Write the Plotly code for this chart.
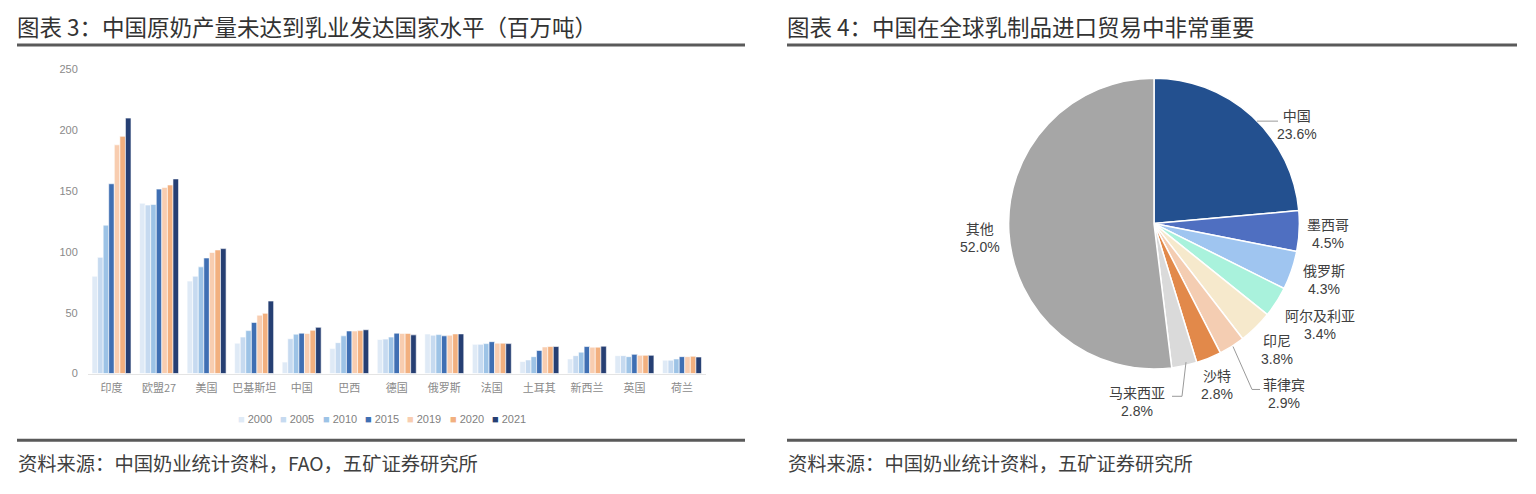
import plotly.graph_objects as go

# ---------------- data ----------------
countries = ["印度", "欧盟27", "美国", "巴基斯坦", "中国", "巴西", "德国", "俄罗斯", "法国", "土耳其", "新西兰", "英国", "荷兰"]
years = ["2000", "2005", "2010", "2015", "2019", "2020", "2021"]
v2000 = [80, 140, 76, 25, 9.4, 20.5, 28, 32.5, 24, 9.9, 12, 14.7, 11]
v2005 = [95.5, 138.5, 80, 30, 28.6, 25.4, 28.3, 31.5, 24, 11.2, 14.7, 14.7, 11]
v2010 = [122, 139, 87.7, 35.3, 32.4, 31, 30, 32, 24.6, 13.9, 17.6, 13.9, 12]
v2015 = [156, 151.6, 95, 42, 33.2, 35, 33.2, 31, 26.2, 19, 22.2, 15.8, 13.9]
v2019 = [188, 153, 99.5, 48, 32.9, 35, 33, 31.5, 25, 21.9, 21.7, 15, 13.9]
v2020 = [195, 155, 101.6, 49.5, 35.6, 35.3, 33, 32.6, 25, 22.2, 21.7, 15, 14.2]
v2021 = [210, 160, 102.7, 59.6, 38, 36, 31.8, 32.6, 24.6, 22.2, 22.5, 15, 13.6]
bar_values = [v2000, v2005, v2010, v2015, v2019, v2020, v2021]
y_ticks = [0, 50, 100, 150, 200, 250]

pie_labels = ["中国", "墨西哥", "俄罗斯", "阿尔及利亚", "印尼", "菲律宾", "沙特", "马来西亚", "其他"]
pie_values = [23.6, 4.5, 4.3, 3.4, 3.8, 2.9, 2.8, 2.8, 52.0]

# ---------------- styles ----------------
W, H = 1536, 494
bar_colors = ["#dfeaf6", "#c6daf0", "#9dc3e6", "#3f6fb3", "#f8cdb0", "#f2b07f", "#263f73"]
pie_colors = ["#23508f", "#4f6fc1", "#9fc5f0", "#a9f2dc", "#f6e9cc", "#f4cdb2", "#e2894a", "#dadada", "#a6a6a6"]
LATIN_CJK = "Liberation Sans, Arial, Noto Sans CJK SC, sans-serif"
CJK = "Noto Sans CJK SC, Liberation Sans, sans-serif"


def px(x):
    return x / W


def py(y):
    return 1 - y / H


fig = go.Figure()

for name, vals, col in zip(years, bar_values, bar_colors):
    fig.add_trace(go.Bar(
        x=countries, y=vals, name=name,
        marker=dict(color=col, line=dict(color="white", width=0.6)),
        showlegend=False, hoverinfo="x+y+name",
    ))

# pie geometry (pixels)
pcx, pcy, pr = 1154, 223, 149
fig.add_trace(go.Pie(
    labels=pie_labels, values=pie_values,
    sort=False, direction="clockwise", rotation=0,
    marker=dict(colors=pie_colors, line=dict(color="white", width=1.5)),
    textinfo="none", showlegend=False,
    domain=dict(x=[px(pcx - pr), px(pcx + pr)], y=[py(pcy + pr), py(pcy - pr)]),
))

fig.update_layout(
    width=W, height=H,
    margin=dict(l=0, r=0, t=0, b=0),
    paper_bgcolor="white", plot_bgcolor="white",
    barmode="group", bargap=0.18, bargroupgap=0.0,
    font=dict(family=LATIN_CJK, color="#595959"),
    xaxis=dict(
        domain=[px(87.75), px(705.75)],
        showgrid=False, zeroline=False, showline=True, linecolor="#e4e4e4", linewidth=1,
        ticks="", tickfont=dict(size=11, color="#8a8a8a", family=CJK),
        ticklabelstandoff=4,
    ),
    yaxis=dict(
        domain=[py(376.7), py(65)], range=[0, 250],
        tickvals=y_ticks, showgrid=False, zeroline=False, showline=False,
        ticks="", tickfont=dict(size=11, color="#8a8a8a"), ticklabelstandoff=9,
    ),
)

ann = []
# titles
ann.append(dict(text="图表 3：中国原奶产量未达到乳业发达国家水平（百万吨）", x=px(15), y=py(20),
                xref="paper", yref="paper", xanchor="left", yanchor="middle", showarrow=False,
                font=dict(size=22.5, color="#333333", family=CJK)))
ann.append(dict(text="图表 4：中国在全球乳制品进口贸易中非常重要", x=px(785), y=py(20),
                xref="paper", yref="paper", xanchor="left", yanchor="middle", showarrow=False,
                font=dict(size=22.5, color="#333333", family=CJK)))
# sources
ann.append(dict(text="资料来源：中国奶业统计资料，FAO，五矿证券研究所", x=px(16), y=py(468),
                xref="paper", yref="paper", xanchor="left", yanchor="middle", showarrow=False,
                font=dict(size=19.3, color="#404040", family=CJK)))
ann.append(dict(text="资料来源：中国奶业统计资料，五矿证券研究所", x=px(786), y=py(468),
                xref="paper", yref="paper", xanchor="left", yanchor="middle", showarrow=False,
                font=dict(size=19.3, color="#404040", family=CJK)))

# custom legend for bar chart
leg_x0, leg_step, leg_y = 236, 42.3, 423
for i, (name, col) in enumerate(zip(years, bar_colors)):
    ann.append(dict(text=f"<span style='color:{col}'>■</span> {name}",
                    x=px(leg_x0 + i * leg_step), y=py(leg_y),
                    xref="paper", yref="paper", xanchor="left", yanchor="middle", showarrow=False,
                    font=dict(size=11, color="#7f7f7f")))

# pie labels (pixel centers of label blocks)
pie_label_pos = [(1297, 122), (1328, 234), (1324, 281), (1320, 327), (1277, 353),
                 (1284, 398), (1217, 388), (1137, 406), (980, 238)]
for lab, val, (lx, ly) in zip(pie_labels, pie_values, pie_label_pos):
    ann.append(dict(text=f"{lab}<br>{val:.1f}%", x=px(lx), y=py(ly),
                    xref="paper", yref="paper", xanchor="center", yanchor="middle", showarrow=False,
                    align="center",
                    font=dict(size=14, color="#404040", family=LATIN_CJK)))
fig.update_layout(annotations=ann)

shapes = []
# separator lines
for x0, x1 in [(17, 745), (787, 1517)]:
    for yy in (40, 445):
        shapes.append(dict(type="line", xref="paper", yref="paper",
                           x0=px(x0), x1=px(x1), y0=py(yy), y1=py(yy),
                           line=dict(color="#5a5a5a", width=3)))
# leader lines
leaders = [
    [(1257, 118), (1278, 118)],
    [(1233, 349), (1252, 393), (1260, 393)],
    [(1186, 365), (1182, 400), (1172, 400)],
]
for pts in leaders:
    path = "M " + " L ".join(f"{px(x)},{py(y)}" for x, y in pts)
    shapes.append(dict(type="path", xref="paper", yref="paper", path=path,
                       line=dict(color="#9a9a9a", width=1)))
fig.update_layout(shapes=shapes)

fig.write_html("out.html", config={"displayModeBar": False},
               post_script="document.body.style.margin='0';")
